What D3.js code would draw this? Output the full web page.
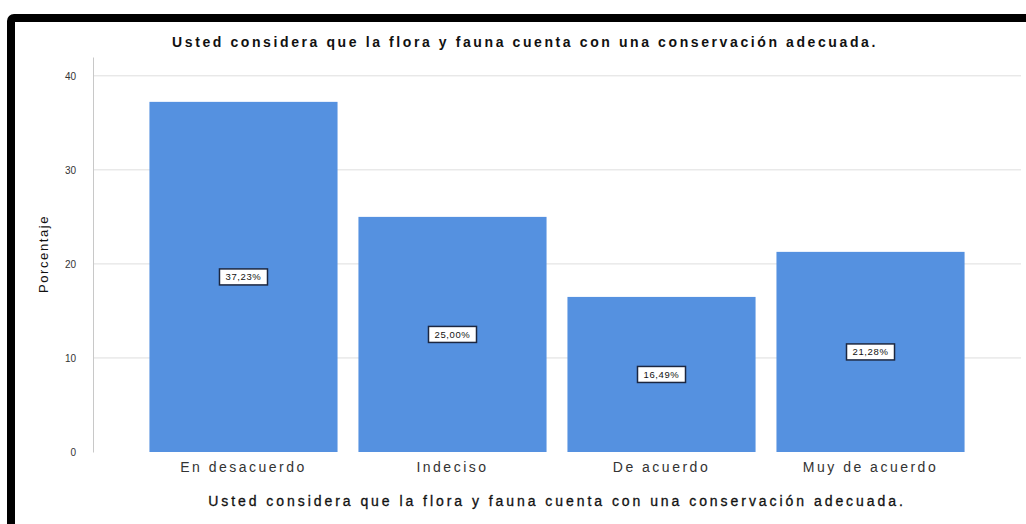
<!DOCTYPE html>
<html>
<head>
<meta charset="utf-8">
<title>Conservación flora y fauna</title>
<script src="https://d3js.org/d3.v7.min.js"></script>
<style>
    body { margin: 0; background: #fff; }
    svg { display: block; font-family: "Liberation Sans", Arial, sans-serif; }
</style>
</head>
<body>
<svg id="chart" width="1026" height="524"></svg>
<script>
    'use strict';

    // data
    const categories = ["En desacuerdo", "Indeciso", "De acuerdo", "Muy de acuerdo"];
    const percents = [37.23, 25.00, 16.49, 21.28];
    const yTicks = [0, 10, 20, 30, 40];
    const titleText = "Usted considera que la flora y fauna cuenta con una conservación adecuada.";

    const svg = d3.select("#chart");

    // thick black frame, only top and left visible
    svg.append("rect")
        .attr("x", 11).attr("y", 18)
        .attr("width", 1100).attr("height", 600)
        .attr("rx", 3)
        .attr("fill", "#fff")
        .attr("stroke", "#000")
        .attr("stroke-width", 8);

    const x = d3.scaleBand()
        .domain(categories)
        .range([93, 1021])
        .paddingInner(0.1)
        .paddingOuter(0.27);

    const y = d3.scaleLinear()
        .domain([0, 42])
        .range([452, 57]);

    // gridlines
    svg.append("g")
        .selectAll("line")
        .data(yTicks.filter(d => d > 0))
        .join("line")
        .attr("x1", 93).attr("x2", 1021)
        .attr("y1", d => y(d)).attr("y2", d => y(d))
        .attr("stroke", "#dedede")
        .attr("stroke-width", 1);

    // y axis
    const yAxis = svg.append("g")
        .attr("transform", "translate(93,0)")
        .call(d3.axisLeft(y).tickValues(yTicks).tickSize(0).tickPadding(17));
    yAxis.select(".domain").attr("stroke", "#c8c8c8");
    yAxis.selectAll("text")
        .attr("font-size", 10)
        .attr("fill", "#333")
        .style("font-family", "Liberation Sans, Arial, sans-serif");

    // bars
    svg.append("g")
        .selectAll("rect")
        .data(percents)
        .join("rect")
        .attr("x", (d, i) => x(categories[i]))
        .attr("y", d => y(d))
        .attr("width", x.bandwidth())
        .attr("height", d => y(0) - y(d))
        .attr("fill", "#5591e0");

    // value labels in boxes
    const lab = svg.append("g")
        .selectAll("g")
        .data(percents)
        .join("g")
        .attr("transform", (d, i) =>
            `translate(${x(categories[i]) + x.bandwidth() / 2},${y(d / 2)})`);
    lab.append("rect")
        .attr("x", -24).attr("y", -8)
        .attr("width", 48).attr("height", 16)
        .attr("fill", "#fff")
        .attr("stroke", "#1c2740")
        .attr("stroke-width", 1.5);
    lab.append("text")
        .attr("text-anchor", "middle")
        .attr("dy", "0.35em")
        .attr("font-size", 9.5)
        .attr("letter-spacing", 0.6)
        .attr("fill", "#111")
        .text(d => d3.format(".2f")(d).replace(".", ",") + "%");

    // category labels
    svg.append("g")
        .selectAll("text")
        .data(categories)
        .join("text")
        .attr("x", d => x(d) + x.bandwidth() / 2)
        .attr("y", 472)
        .attr("text-anchor", "middle")
        .attr("font-size", 14)
        .attr("letter-spacing", 2.5)
        .attr("fill", "#333")
        .text(d => d);

    // chart title
    svg.append("text")
        .attr("x", 525).attr("y", 47)
        .attr("text-anchor", "middle")
        .attr("font-size", 14)
        .attr("font-weight", "bold")
        .attr("letter-spacing", 2.6)
        .attr("fill", "#111")
        .text(titleText);

    // x axis title
    svg.append("text")
        .attr("x", 557).attr("y", 506)
        .attr("text-anchor", "middle")
        .attr("font-size", 14)
        .attr("letter-spacing", 2.95)
        .attr("fill", "#111")
        .attr("stroke", "#111")
        .attr("stroke-width", 0.3)
        .text(titleText);

    // y axis title
    svg.append("text")
        .attr("transform", "translate(48,254) rotate(-90)")
        .attr("text-anchor", "middle")
        .attr("font-size", 13)
        .attr("letter-spacing", 1.6)
        .attr("fill", "#111")
        .text("Porcentaje");
</script>
</body>
</html>
